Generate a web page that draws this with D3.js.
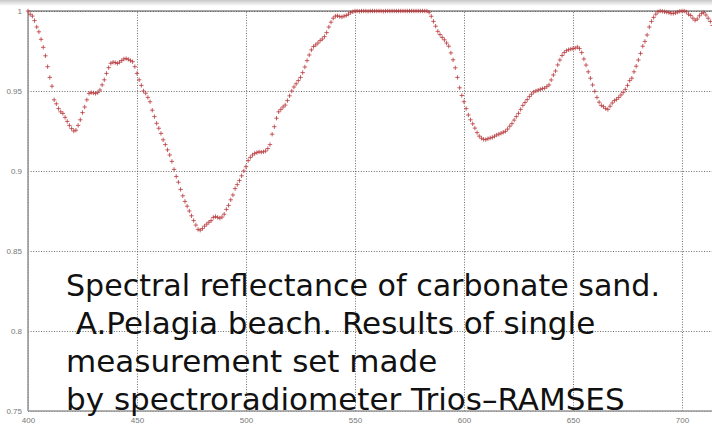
<!DOCTYPE html>
<html>
<head>
<meta charset="utf-8">
<script src="https://cdn.jsdelivr.net/npm/d3@7"></script>
<style>
  body { margin: 0; background: #fff; }
  svg { display: block; }
  .axis text { font-family: "Liberation Sans", Arial, sans-serif; font-size: 8px; fill: #777; }
  .note { font-family: "DejaVu Sans", sans-serif; font-size: 31px; fill: #111; }
</style>
</head>
<body>
<svg id="chart" width="712" height="427"></svg>
<script>
// wavelength, nm (1 nm step) and reflectance
const wlStart = 400;
const reflectance = [
  1.000, 0.998, 0.9968, 0.994, 0.990, 0.987, 0.9823, 0.9773, 0.972, 0.9652,
  0.9585, 0.953, 0.9445, 0.942, 0.939, 0.937, 0.936, 0.9335, 0.931, 0.9285,
  0.9265, 0.925, 0.9255, 0.9285, 0.932, 0.9365, 0.940, 0.9445, 0.9485, 0.949,
  0.9488, 0.9485, 0.949, 0.9506, 0.9538, 0.957, 0.961, 0.9646, 0.9673, 0.968,
  0.9678, 0.9672, 0.968, 0.969, 0.970, 0.9703, 0.9698, 0.969, 0.9683, 0.9652,
  0.961, 0.957, 0.9535, 0.950, 0.9486, 0.946, 0.9433, 0.938, 0.934, 0.9298,
  0.9267, 0.9235, 0.9195, 0.9165, 0.9132, 0.910, 0.906, 0.901, 0.8966, 0.893,
  0.8885, 0.8845, 0.881, 0.878, 0.875, 0.872, 0.869, 0.8662, 0.8635, 0.863,
  0.864, 0.8655, 0.8668, 0.868, 0.869, 0.871, 0.8715, 0.871, 0.8705, 0.8712,
  0.873, 0.876, 0.8785, 0.882, 0.885, 0.889, 0.8915, 0.894, 0.897, 0.900,
  0.9027, 0.9065, 0.9085, 0.910, 0.911, 0.9115, 0.912, 0.9118, 0.912, 0.9125,
  0.914, 0.9165, 0.923, 0.9277, 0.933, 0.937, 0.9385, 0.940, 0.9412, 0.944,
  0.947, 0.950, 0.9525, 0.9545, 0.9565, 0.9585, 0.9615, 0.965, 0.969, 0.9725,
  0.9757, 0.9778, 0.9788, 0.980, 0.9815, 0.9825, 0.984, 0.9865, 0.990, 0.993,
  0.9955, 0.9968, 0.997, 0.9965, 0.9963, 0.9968, 0.9972, 0.998, 0.999, 0.9995,
  1.000, 1.000, 0.9998, 1.000, 1.000, 1.000, 0.9998, 1.000, 1.000, 1.000,
  1.000, 1.000, 1.000, 0.9998, 1.000, 1.000, 1.000, 1.000, 1.000, 1.000,
  1.000, 1.000, 1.000, 1.000, 1.000, 1.000, 1.000, 1.000, 1.000, 1.000,
  1.000, 1.000, 1.000, 1.000, 0.9992, 0.9967, 0.9935, 0.9905, 0.9873, 0.9853,
  0.9835, 0.982, 0.980, 0.978, 0.9738, 0.9695, 0.9645, 0.9585, 0.952, 0.9472,
  0.9433, 0.939, 0.935, 0.932, 0.9295, 0.9268, 0.924, 0.9218, 0.9205, 0.9198,
  0.9196, 0.9202, 0.9206, 0.921, 0.9217, 0.9225, 0.923, 0.9236, 0.9242, 0.9248,
  0.9262, 0.928, 0.9296, 0.9318, 0.934, 0.936, 0.9385, 0.941, 0.9428, 0.9446,
  0.9465, 0.948, 0.9494, 0.950, 0.9505, 0.951, 0.9515, 0.9518, 0.9527, 0.9538,
  0.9569, 0.960, 0.9625, 0.9663, 0.9694, 0.9722, 0.974, 0.9752, 0.9758, 0.9762,
  0.9765, 0.9768, 0.9775, 0.9765, 0.974, 0.970, 0.9662, 0.962, 0.958, 0.9538,
  0.9498, 0.946, 0.943, 0.941, 0.9402, 0.939, 0.9385, 0.9405, 0.9425, 0.944,
  0.9448, 0.946, 0.9475, 0.949, 0.951, 0.9535, 0.9565, 0.958, 0.962, 0.9655,
  0.9694, 0.9735, 0.978, 0.981, 0.985, 0.990, 0.9935, 0.996, 0.998, 0.9995,
  1.000, 0.9998, 0.9995, 0.9993, 0.999, 0.9985, 0.9985, 0.9988, 0.9993, 0.9998,
  1.000, 1.000, 0.9995, 0.998, 0.9972, 0.9955, 0.9942, 0.995, 0.997, 0.9985,
  0.999, 0.9975, 0.9955, 0.9935, 0.991
];
const xTicks = [400, 450, 500, 550, 600, 650, 700];
const yTicks = [0.75, 0.8, 0.85, 0.9, 0.95, 1];
const yTickLabels = ['0.75', '0.8', '0.85', '0.9', '0.95', '1'];
const noteLines = [
  'Spectral reflectance of carbonate sand.',
  '\u00a0A.Pelagia beach. Results of single',
  'measurement set made',
  'by spectroradiometer Trios\u2013RAMSES'
];

const points = reflectance.map((v, i) => ({ wl: wlStart + i, v }));

const svg = d3.select('#chart');
const L = 28, R = 712.5, T = 11, B = 411;

const x = d3.scaleLinear().domain([400, 714]).range([L, R]);
const y = d3.scaleLinear().domain([0.75, 1]).range([B, T]);

// faint remains of the cropped title band
const grad = svg.append('defs').append('linearGradient')
  .attr('id', 'topfade').attr('x1', 0).attr('x2', 0).attr('y1', 0).attr('y2', 1);
grad.append('stop').attr('offset', 0).attr('stop-color', '#c8c8c8');
grad.append('stop').attr('offset', 1).attr('stop-color', '#fff');
svg.append('rect').attr('x', 0).attr('y', 0).attr('width', 712).attr('height', 6).attr('fill', 'url(#topfade)');

// grid
const xGrid = svg.append('g').attr('class', 'axis')
  .attr('transform', `translate(0,${B})`)
  .call(d3.axisBottom(x).tickValues(xTicks).tickSize(-(B - T)).tickPadding(6).tickFormat(d3.format('d')));
xGrid.select('.domain').remove();
xGrid.selectAll('line').attr('stroke', '#444').attr('stroke-dasharray', '1,1.6').attr('stroke-width', 0.8);
xGrid.selectAll('text').attr('dy', '0.71em');

const yGrid = svg.append('g').attr('class', 'axis')
  .attr('transform', `translate(${L},0)`)
  .call(d3.axisLeft(y).tickValues(yTicks).tickSize(-(R - L)).tickPadding(6)
    .tickFormat((d, i) => yTickLabels[i]));
yGrid.select('.domain').remove();
yGrid.selectAll('line').attr('stroke', '#444').attr('stroke-dasharray', '1,1.6').attr('stroke-width', 0.8);

// frame
svg.append('line').attr('x1', L).attr('x2', 712).attr('y1', T).attr('y2', T)
  .attr('stroke', '#555').attr('stroke-width', 1.2);
svg.append('line').attr('x1', L).attr('x2', L).attr('y1', T).attr('y2', B)
  .attr('stroke', '#999').attr('stroke-width', 1.6);
svg.append('line').attr('x1', L).attr('x2', 712).attr('y1', B).attr('y2', B)
  .attr('stroke', '#999').attr('stroke-width', 1.6);

// markers
svg.append('g').selectAll('path').data(points).enter().append('path')
  .attr('transform', d => `translate(${x(d.wl)},${y(d.v)})`)
  .attr('d', 'M-2.2,0H2.2M0,-2.2V2.2')
  .attr('stroke', '#b8383c').attr('stroke-width', 1).attr('stroke-opacity', 0.8)
  .attr('fill', 'none');

// annotation
const note = svg.append('g').selectAll('text').data(noteLines).enter().append('text')
  .attr('class', 'note')
  .attr('x', 66)
  .attr('y', (d, i) => 296 + i * 38)
  .text(d => d);
// the first line is set a little tighter in the original
note.filter((d, i) => i === 0)
  .attr('textLength', 594).attr('lengthAdjust', 'spacingAndGlyphs');
</script>
</body>
</html>
